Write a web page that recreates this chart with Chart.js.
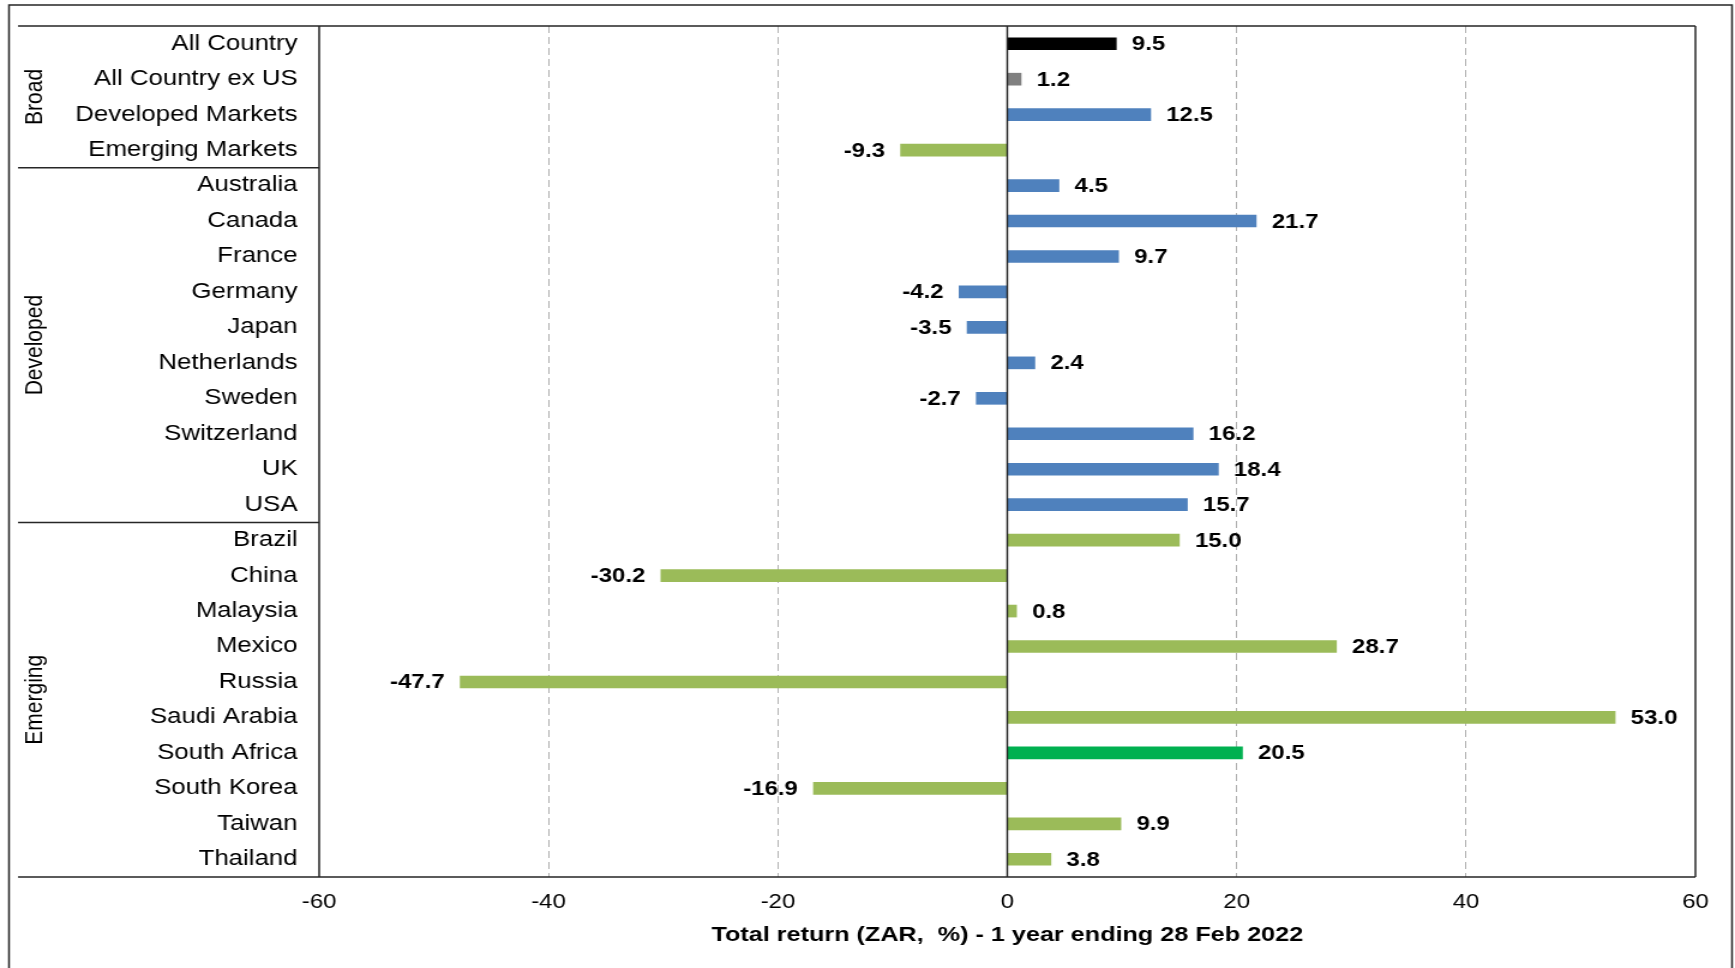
<!DOCTYPE html>
<html>
<head>
<meta charset="utf-8">
<title>Total return (ZAR, %) - 1 year ending 28 Feb 2022</title>
<script src="https://cdn.jsdelivr.net/npm/chart.js@4.4.0/dist/chart.umd.js"></script>
<style>
    html, body { margin: 0; padding: 0; background: #fff; overflow: hidden; }
    /* the original is a horizontally stretched Excel export, so the canvas is stretched the same way */
    #wrap { width: 1446px; height: 968px; transform: scaleX(1.19986); transform-origin: 0 0; }
</style>
</head>
<body>
<div id="wrap"><canvas id="returnsChart"></canvas></div>
<script>
// Dados
const countries = [
    'All Country', 'All Country ex US', 'Developed Markets', 'Emerging Markets',
    'Australia', 'Canada', 'France', 'Germany', 'Japan', 'Netherlands', 'Sweden', 'Switzerland', 'UK', 'USA',
    'Brazil', 'China', 'Malaysia', 'Mexico', 'Russia', 'Saudi Arabia', 'South Africa', 'South Korea', 'Taiwan', 'Thailand'
];
const groups = [
    'Broad', 'Broad', 'Broad', 'Broad',
    'Developed', 'Developed', 'Developed', 'Developed', 'Developed', 'Developed', 'Developed', 'Developed', 'Developed', 'Developed',
    'Emerging', 'Emerging', 'Emerging', 'Emerging', 'Emerging', 'Emerging', 'Emerging', 'Emerging', 'Emerging', 'Emerging'
];
const returns = [
    9.5, 1.2, 12.5, -9.3,
    4.5, 21.7, 9.7, -4.2, -3.5, 2.4, -2.7, 16.2, 18.4, 15.7,
    15.0, -30.2, 0.8, 28.7, -47.7, 53.0, 20.5, -16.9, 9.9, 3.8
];
const xMin = -60;
const xMax = 60;
const xStep = 20;
const axisTitle = 'Total return (ZAR,  %) - 1 year ending 28 Feb 2022';

// Cores
const groupColours = { Broad: '#4F81BD', Developed: '#4F81BD', Emerging: '#9BBB59' };
const specialColours = {
    'All Country': '#000000',
    'All Country ex US': '#808080',
    'Developed Markets': '#4F81BD',
    'Emerging Markets': '#9BBB59',
    'South Africa': '#00B050'
};
const barColours = countries.map((c, i) => specialColours[c] || groupColours[groups[i]]);

const FONT = "'Liberation Sans', Arial, sans-serif";
const LINE = '#262626';

// Moldura, separadores e nomes dos grupos
const framePlugin = {
    id: 'frame',
    afterDraw(chart) {
        const { ctx, chartArea: a, scales: { x, y } } = chart;
        const labelLeft = chart.options.layout.padding.left;
        ctx.save();
        ctx.strokeStyle = LINE;
        ctx.lineWidth = 1.5;

        // borda externa (sem lado de baixo)
        ctx.beginPath();
        ctx.moveTo(7.5, chart.height + 2);
        ctx.lineTo(7.5, 5);
        ctx.lineTo(chart.width - 2.5, 5);
        ctx.lineTo(chart.width - 2.5, chart.height + 2);
        ctx.stroke();

        // caixa do gráfico + área dos rótulos
        ctx.beginPath();
        ctx.moveTo(labelLeft, a.top); ctx.lineTo(a.right, a.top);
        ctx.moveTo(labelLeft, a.bottom); ctx.lineTo(a.right, a.bottom);
        ctx.moveTo(a.left, a.top); ctx.lineTo(a.left, a.bottom);
        ctx.moveTo(a.right, a.top); ctx.lineTo(a.right, a.bottom);
        // linha do zero
        const x0 = x.getPixelForValue(0);
        ctx.moveTo(x0, a.top); ctx.lineTo(x0, a.bottom);
        ctx.stroke();

        // separadores entre grupos + nomes
        ctx.fillStyle = '#000';
        ctx.font = '21px ' + FONT;
        ctx.textAlign = 'center';
        ctx.textBaseline = 'middle';
        let start = 0;
        for (let i = 1; i <= groups.length; i++) {
            if (i < groups.length && groups[i] === groups[start]) continue;
            if (i < groups.length) {
                const ys = (y.getPixelForValue(i - 1) + y.getPixelForValue(i)) / 2;
                ctx.beginPath();
                ctx.moveTo(labelLeft, ys);
                ctx.lineTo(a.left, ys);
                ctx.stroke();
            }
            const yc = (y.getPixelForValue(start) + y.getPixelForValue(i - 1)) / 2;
            ctx.save();
            ctx.translate(labelLeft + 14, yc);
            ctx.rotate(-Math.PI / 2);
            ctx.fillText(groups[start], 0, 0);
            ctx.restore();
            start = i;
        }
        ctx.restore();
    }
};

// Rótulos de valor nas pontas das barras
const valueLabelPlugin = {
    id: 'valueLabels',
    afterDatasetsDraw(chart) {
        const { ctx } = chart;
        const meta = chart.getDatasetMeta(0);
        ctx.save();
        ctx.fillStyle = '#000';
        ctx.font = 'bold 20px ' + FONT;
        ctx.textBaseline = 'middle';
        meta.data.forEach((bar, i) => {
            const v = returns[i];
            ctx.textAlign = v < 0 ? 'right' : 'left';
            ctx.fillText(v.toFixed(1), bar.x + (v < 0 ? -13 : 13), bar.y + 1);
        });
        ctx.restore();
    }
};

new Chart(document.getElementById('returnsChart'), {
    type: 'bar',
    data: {
        labels: countries,
        datasets: [{
            data: returns,
            backgroundColor: barColours,
            borderWidth: 0,
            barThickness: 12
        }]
    },
    options: {
        indexAxis: 'y',
        responsive: true,
        maintainAspectRatio: false,
        animation: false,
        layout: { padding: { left: 15, top: 26, right: 33, bottom: 0 } },
        plugins: {
            legend: { display: false },
            tooltip: { enabled: false }
        },
        scales: {
            x: {
                min: xMin,
                max: xMax,
                ticks: { stepSize: xStep, padding: 13, color: '#000', font: { family: FONT, size: 20 } },
                grid: {
                    drawTicks: false,
                    lineWidth: 1,
                    color: ctx => (ctx.tick && (ctx.tick.value === 0 || ctx.tick.value === xMin || ctx.tick.value === xMax))
                        ? 'rgba(0,0,0,0)' : '#b0b0b0'
                },
                border: { display: false, dash: [7, 4] },
                title: {
                    display: true,
                    text: axisTitle,
                    color: '#000',
                    font: { family: FONT, size: 21, weight: 'bold' },
                    padding: { top: 0, bottom: 20 }
                },
                afterFit: scale => { scale.height = 91; }
            },
            y: {
                ticks: { padding: 18, color: '#000', font: { family: FONT, size: 21.5 } },
                grid: { display: false, drawTicks: false },
                border: { display: false },
                afterFit: scale => {
                    scale.width = 251;
                    // sem folga extra acima/abaixo: a caixa começa onde o padding do layout manda
                    scale.paddingTop = 0;
                    scale.paddingBottom = 0;
                }
            }
        }
    },
    plugins: [framePlugin, valueLabelPlugin]
});
</script>
</body>
</html>
